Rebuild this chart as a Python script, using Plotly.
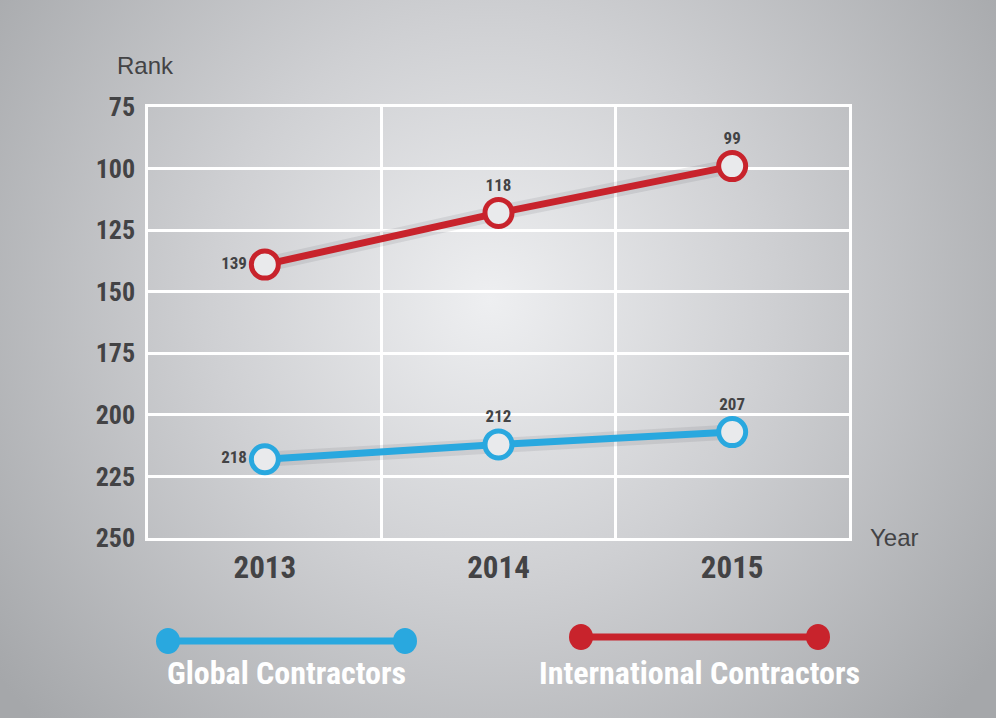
import base64
import plotly.graph_objects as go

years = ["2013", "2014", "2015"]
global_rank = [218, 212, 207]
intl_rank = [139, 118, 99]
rank_ticks = [75, 100, 125, 150, 175, 200, 225, 250]

BLUE = "#29a8df"
RED = "#c8232c"
DARK = "#434345"
FONT = "Liberation Sans Narrow, Arial Narrow, Roboto Condensed, Liberation Sans, Arial, sans-serif"
PLAIN = "Liberation Sans, Arial, sans-serif"

W, H = 996, 718
L, R, T, B = 148, 147, 107, 180
pw, ph = W - L - R, H - T - B

# radial grey backdrop as an svg gradient
svg = f"""<svg xmlns='http://www.w3.org/2000/svg' width='{W}' height='{H}'>
<defs><radialGradient id='g' cx='490' cy='300' r='620' gradientUnits='userSpaceOnUse'>
<stop offset='0' stop-color='#eeeff1'/><stop offset='0.45' stop-color='#cfd0d3'/>
<stop offset='1' stop-color='#a5a7aa'/></radialGradient></defs>
<rect width='{W}' height='{H}' fill='url(#g)'/></svg>"""
bg = "data:image/svg+xml;base64," + base64.b64encode(svg.encode()).decode()

fig = go.Figure()

for name, vals, col in [
    ("International Contractors", intl_rank, RED),
    ("Global Contractors", global_rank, BLUE),
]:
    # soft shadow under the line
    fig.add_trace(go.Scatter(x=years, y=vals, mode="lines", hoverinfo="skip",
                             line=dict(color="rgba(60,60,70,0.10)", width=15),
                             showlegend=False))
    fig.add_trace(go.Scatter(x=years, y=vals, mode="lines+markers+text", name=name,
                             line=dict(color=col, width=7),
                             marker=dict(size=27, color="#e9eaec", line=dict(color=col, width=5)),
                             text=[str(v) for v in vals],
                             textposition=["middle left", "top center", "top center"],
                             textfont=dict(family=FONT, size=17, color=DARK, weight="bold"),
                             showlegend=False))

fig.update_xaxes(type="category", range=[-0.5, 2.5], tickson="boundaries",
                 showgrid=True, gridcolor="white", gridwidth=2.5,
                 showline=True, mirror=True, linecolor="white", linewidth=2.5,
                 ticks="", ticklen=0,
                 tickfont=dict(family=FONT, size=31, color=DARK, weight="bold"))
fig.update_yaxes(range=[250, 75], tickvals=rank_ticks,
                 showgrid=True, gridcolor="white", gridwidth=2.5,
                 showline=True, mirror=True, linecolor="white", linewidth=2.5,
                 zeroline=False, ticks="", ticklabelstandoff=5,
                 tickfont=dict(family=FONT, size=26, color=DARK, weight="bold"))

# legend drawn by hand under the plot
legend = [("Global Contractors", BLUE, 168, 405, 641), ("International Contractors", RED, 581, 818, 637)]
shapes = []
annotations = []
for name, col, x0, x1, y in legend:
    fx0, fx1 = (x0 - L) / pw, (x1 - L) / pw
    fy = (H - B - y) / ph
    shapes.append(dict(type="line", xref="paper", yref="paper", x0=fx0, x1=fx1, y0=fy, y1=fy,
                       line=dict(color=col, width=7)))
    for fx in (fx0, fx1):
        shapes.append(dict(type="circle", xref="paper", yref="paper",
                           x0=fx - 12 / pw, x1=fx + 12 / pw, y0=fy - 13 / ph, y1=fy + 13 / ph,
                           fillcolor=col, line=dict(width=0)))
    annotations.append(dict(text=name, xref="paper", yref="paper",
                            x=(fx0 + fx1) / 2, y=(H - B - 673) / ph, showarrow=False,
                            xanchor="center", yanchor="middle",
                            font=dict(family=FONT, size=32, color="white", weight="bold")))

annotations.append(dict(text="Rank", xref="paper", yref="paper", x=(145 - L) / pw,
                        y=(H - B - 66) / ph, showarrow=False, xanchor="center", yanchor="middle",
                        font=dict(family=PLAIN, size=24, color=DARK)))
annotations.append(dict(text="Year", xref="paper", yref="paper", x=(894 - L) / pw,
                        y=(H - B - 537) / ph, showarrow=False, xanchor="center", yanchor="middle",
                        font=dict(family=PLAIN, size=24, color=DARK)))

fig.update_layout(
    width=W, height=H,
    margin=dict(l=L, r=R, t=T, b=B),
    paper_bgcolor="#c4c5c8", plot_bgcolor="rgba(0,0,0,0)",
    font=dict(family=FONT, color=DARK),
    shapes=shapes, annotations=annotations,
    images=[dict(source=bg, xref="paper", yref="paper", x=-L / pw, y=1 + T / ph,
                 sizex=W / pw, sizey=H / ph, sizing="stretch", layer="below",
                 xanchor="left", yanchor="top")],
)

fig.write_html("out.html", config={"displayModeBar": False},
               post_script="document.body.style.margin='0';")
